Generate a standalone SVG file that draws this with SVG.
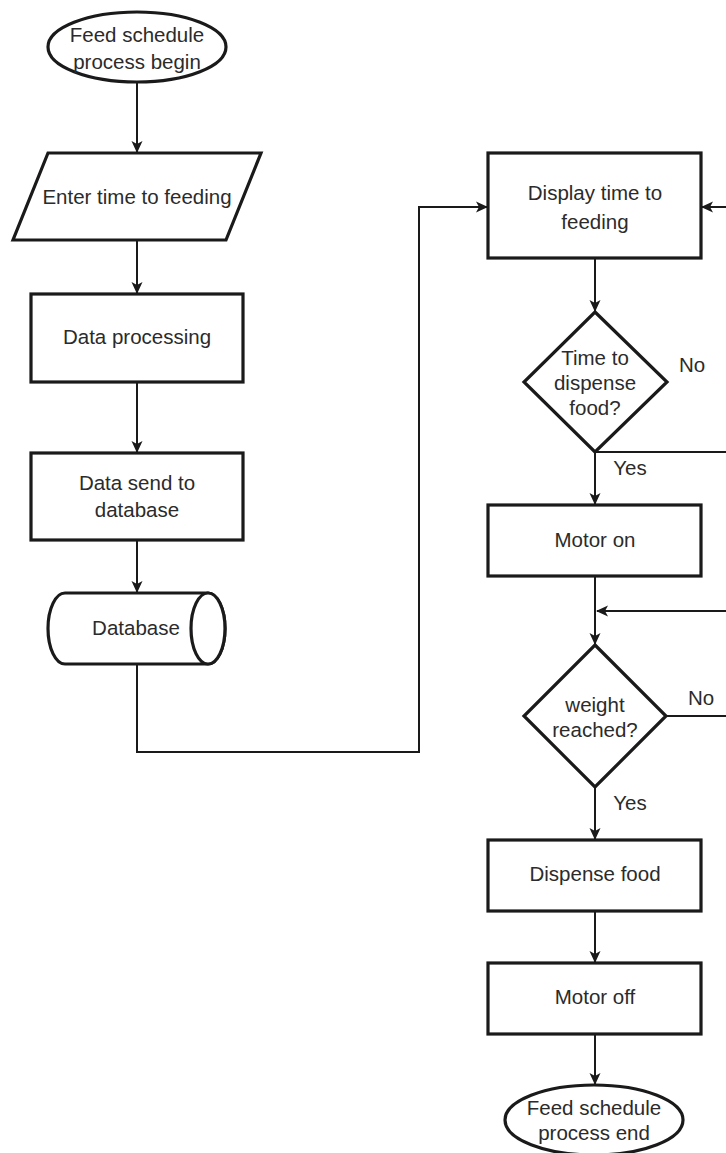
<svg xmlns="http://www.w3.org/2000/svg" width="726" height="1153" viewBox="0 0 726 1153">
  <style>
    .shape { fill: #ffffff; stroke: #1a1a1a; stroke-width: 3.2; }
    .edge { fill: none; stroke: #1a1a1a; stroke-width: 2; }
    .lbl { font-family: "Liberation Sans", Arial, sans-serif; font-size: 20.5px; fill: #2b2b2b; text-anchor: middle; }
  </style>
  <defs>
    <marker id="arrow" viewBox="0 0 12 12" refX="11" refY="6" markerWidth="12" markerHeight="12" markerUnits="userSpaceOnUse" orient="auto">
      <path d="M0,0.5 L12,6 L0,11.5 L3,6 Z" fill="#1a1a1a"/>
    </marker>
  </defs>
  <rect width="726" height="1153" fill="#ffffff"/>

  <!-- connectors -->
  <g id="connectors">
    <path class="edge" d="M137,83 V152" marker-end="url(#arrow)"/>
    <path class="edge" d="M137,240 V293" marker-end="url(#arrow)"/>
    <path class="edge" d="M137,382 V452" marker-end="url(#arrow)"/>
    <path class="edge" d="M137,540 V592" marker-end="url(#arrow)"/>
    <path class="edge" d="M137,664 V752 H419 V207 H487" marker-end="url(#arrow)"/>
    <path class="edge" d="M726,207 H702" marker-end="url(#arrow)"/>
    <path class="edge" d="M595,258 V311" marker-end="url(#arrow)"/>
    <path class="edge" d="M595,452 H726"/>
    <path class="edge" d="M595,452 V504" marker-end="url(#arrow)"/>
    <path class="edge" d="M595,576 V644" marker-end="url(#arrow)"/>
    <path class="edge" d="M726,611 H597" marker-end="url(#arrow)"/>
    <path class="edge" d="M666,716 H726"/>
    <path class="edge" d="M595,787 V839" marker-end="url(#arrow)"/>
    <path class="edge" d="M595,911 V962" marker-end="url(#arrow)"/>
    <path class="edge" d="M595,1034 V1084" marker-end="url(#arrow)"/>
    <text class="lbl" x="692" y="372">No</text>
    <text class="lbl" x="630" y="475">Yes</text>
    <text class="lbl" x="701" y="705">No</text>
    <text class="lbl" x="630" y="810">Yes</text>
  </g>

  <g id="start">
    <ellipse class="shape" cx="137" cy="47" rx="89" ry="35"/>
    <text class="lbl" x="137" y="42">Feed schedule</text>
    <text class="lbl" x="137" y="69">process begin</text>
  </g>

  <g id="enter-time">
    <polygon class="shape" points="48,153 261,153 226,240 13,240"/>
    <text class="lbl" x="137" y="204">Enter time to feeding</text>
  </g>

  <g id="data-processing">
    <rect class="shape" x="31" y="294" width="212" height="88"/>
    <text class="lbl" x="137" y="344">Data processing</text>
  </g>

  <g id="data-send">
    <rect class="shape" x="31" y="453" width="212" height="87"/>
    <text class="lbl" x="137" y="490">Data send to</text>
    <text class="lbl" x="137" y="517">database</text>
  </g>

  <g id="database">
    <path class="shape" d="M65,593 H208 A17,35.5 0 0 1 208,664 H65 A17,35.5 0 0 1 65,593 Z"/>
    <ellipse class="shape" cx="208" cy="628.5" rx="17" ry="35.5"/>
    <text class="lbl" x="136" y="635">Database</text>
  </g>

  <g id="display-time">
    <rect class="shape" x="488" y="153" width="213" height="105"/>
    <text class="lbl" x="595" y="200">Display time to</text>
    <text class="lbl" x="595" y="229">feeding</text>
  </g>

  <g id="time-check">
    <polygon class="shape" points="595,312 667,382 595,452 524,382"/>
    <text class="lbl" x="595" y="365">Time to</text>
    <text class="lbl" x="595" y="390">dispense</text>
    <text class="lbl" x="595" y="415">food?</text>
  </g>

  <g id="motor-on">
    <rect class="shape" x="488" y="505" width="213" height="71"/>
    <text class="lbl" x="595" y="547">Motor on</text>
  </g>

  <g id="weight-check">
    <polygon class="shape" points="595,645 666,716 595,787 524,716"/>
    <text class="lbl" x="595" y="712">weight</text>
    <text class="lbl" x="595" y="737">reached?</text>
  </g>

  <g id="dispense-food">
    <rect class="shape" x="488" y="840" width="213" height="71"/>
    <text class="lbl" x="595" y="881">Dispense food</text>
  </g>

  <g id="motor-off">
    <rect class="shape" x="488" y="963" width="213" height="71"/>
    <text class="lbl" x="595" y="1004">Motor off</text>
  </g>

  <g id="end">
    <ellipse class="shape" cx="594" cy="1120" rx="89" ry="35"/>
    <text class="lbl" x="594" y="1115">Feed schedule</text>
    <text class="lbl" x="594" y="1140">process end</text>
  </g>
</svg>
